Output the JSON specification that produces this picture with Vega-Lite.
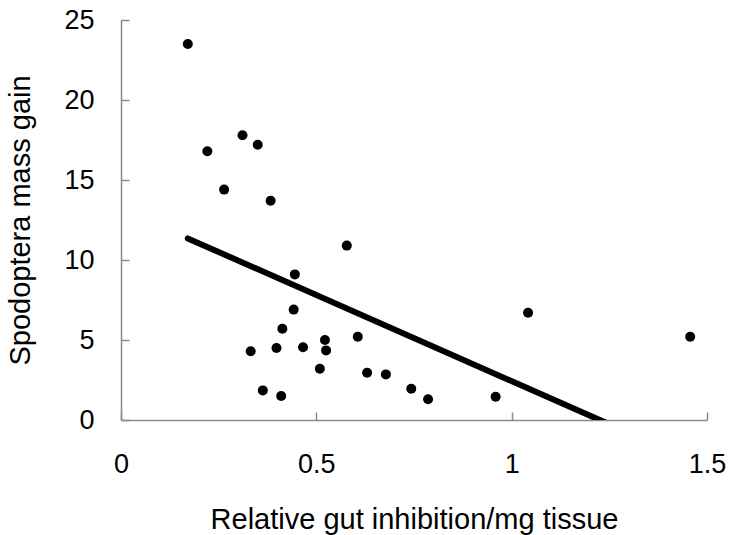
{
  "$schema": "https://vega.github.io/schema/vega-lite/v6.json",
  "autosize": {"type": "none"},
  "width": 586,
  "height": 400,
  "padding": {"left": 121, "top": 20, "right": 23, "bottom": 115},
  "background": "white",
  "config": {
    "view": {"stroke": null},
    "font": "Liberation Sans"
  },
  "datasets": {
    "points": [
      {"inhibition": 0.171, "gain": 23.5},
      {"inhibition": 0.311, "gain": 17.8},
      {"inhibition": 0.350, "gain": 17.2},
      {"inhibition": 0.221, "gain": 16.8},
      {"inhibition": 0.264, "gain": 14.4},
      {"inhibition": 0.383, "gain": 13.7},
      {"inhibition": 0.578, "gain": 10.9},
      {"inhibition": 0.445, "gain": 9.1},
      {"inhibition": 0.442, "gain": 6.9},
      {"inhibition": 0.413, "gain": 5.7},
      {"inhibition": 0.522, "gain": 5.0},
      {"inhibition": 0.606, "gain": 5.2},
      {"inhibition": 0.332, "gain": 4.3},
      {"inhibition": 0.398, "gain": 4.5},
      {"inhibition": 0.466, "gain": 4.55},
      {"inhibition": 0.525, "gain": 4.35},
      {"inhibition": 0.509, "gain": 3.2},
      {"inhibition": 0.630, "gain": 2.95},
      {"inhibition": 0.678, "gain": 2.85},
      {"inhibition": 0.743, "gain": 1.95},
      {"inhibition": 0.363, "gain": 1.85},
      {"inhibition": 0.410, "gain": 1.5},
      {"inhibition": 0.786, "gain": 1.3},
      {"inhibition": 0.959, "gain": 1.45},
      {"inhibition": 1.042, "gain": 6.7},
      {"inhibition": 1.457, "gain": 5.2}
    ],
    "trend": [
      {"inhibition": 0.171, "gain": 11.35},
      {"inhibition": 1.457, "gain": -2.49}
    ]
  },
  "layer": [
    {
      "data": {"name": "trend"},
      "mark": {"type": "line", "color": "#000000", "strokeWidth": 6, "strokeCap": "round", "clip": true},
      "encoding": {
        "x": {"field": "inhibition", "type": "quantitative"},
        "y": {"field": "gain", "type": "quantitative"}
      }
    },
    {
      "data": {"name": "points"},
      "mark": {"type": "circle", "color": "#000000", "opacity": 1, "size": 100},
      "encoding": {
        "x": {
          "field": "inhibition",
          "type": "quantitative",
          "scale": {"domain": [0, 1.5], "nice": false, "zero": false},
          "axis": {
            "values": [0, 0.5, 1, 1.5],
            "format": "~g",
            "grid": false,
            "domainColor": "#8a8a8a",
            "domainWidth": 1.5,
            "tickColor": "#8a8a8a",
            "tickWidth": 1.5,
            "tickSize": -8,
            "labelFont": "Liberation Sans",
            "labelFontSize": 27,
            "labelColor": "#000000",
            "labelPadding": 39,
            "labelFlush": false,
            "title": "Relative gut inhibition/mg tissue",
            "titleFont": "Liberation Sans",
            "titleFontSize": 29,
            "titleFontWeight": "normal",
            "titleColor": "#000000",
            "titlePadding": 28
          }
        },
        "y": {
          "field": "gain",
          "type": "quantitative",
          "scale": {"domain": [0, 25], "nice": false},
          "axis": {
            "values": [0, 5, 10, 15, 20, 25],
            "grid": false,
            "domainColor": "#8a8a8a",
            "domainWidth": 1.5,
            "tickColor": "#8a8a8a",
            "tickWidth": 1.5,
            "tickSize": -8,
            "labelFont": "Liberation Sans",
            "labelFontSize": 27,
            "labelColor": "#000000",
            "labelPadding": 35,
            "labelFlush": false,
            "title": "Spodoptera mass gain",
            "titleFont": "Liberation Sans",
            "titleFontSize": 29,
            "titleFontWeight": "normal",
            "titleColor": "#000000",
            "titlePadding": 28
          }
        }
      }
    }
  ]
}
